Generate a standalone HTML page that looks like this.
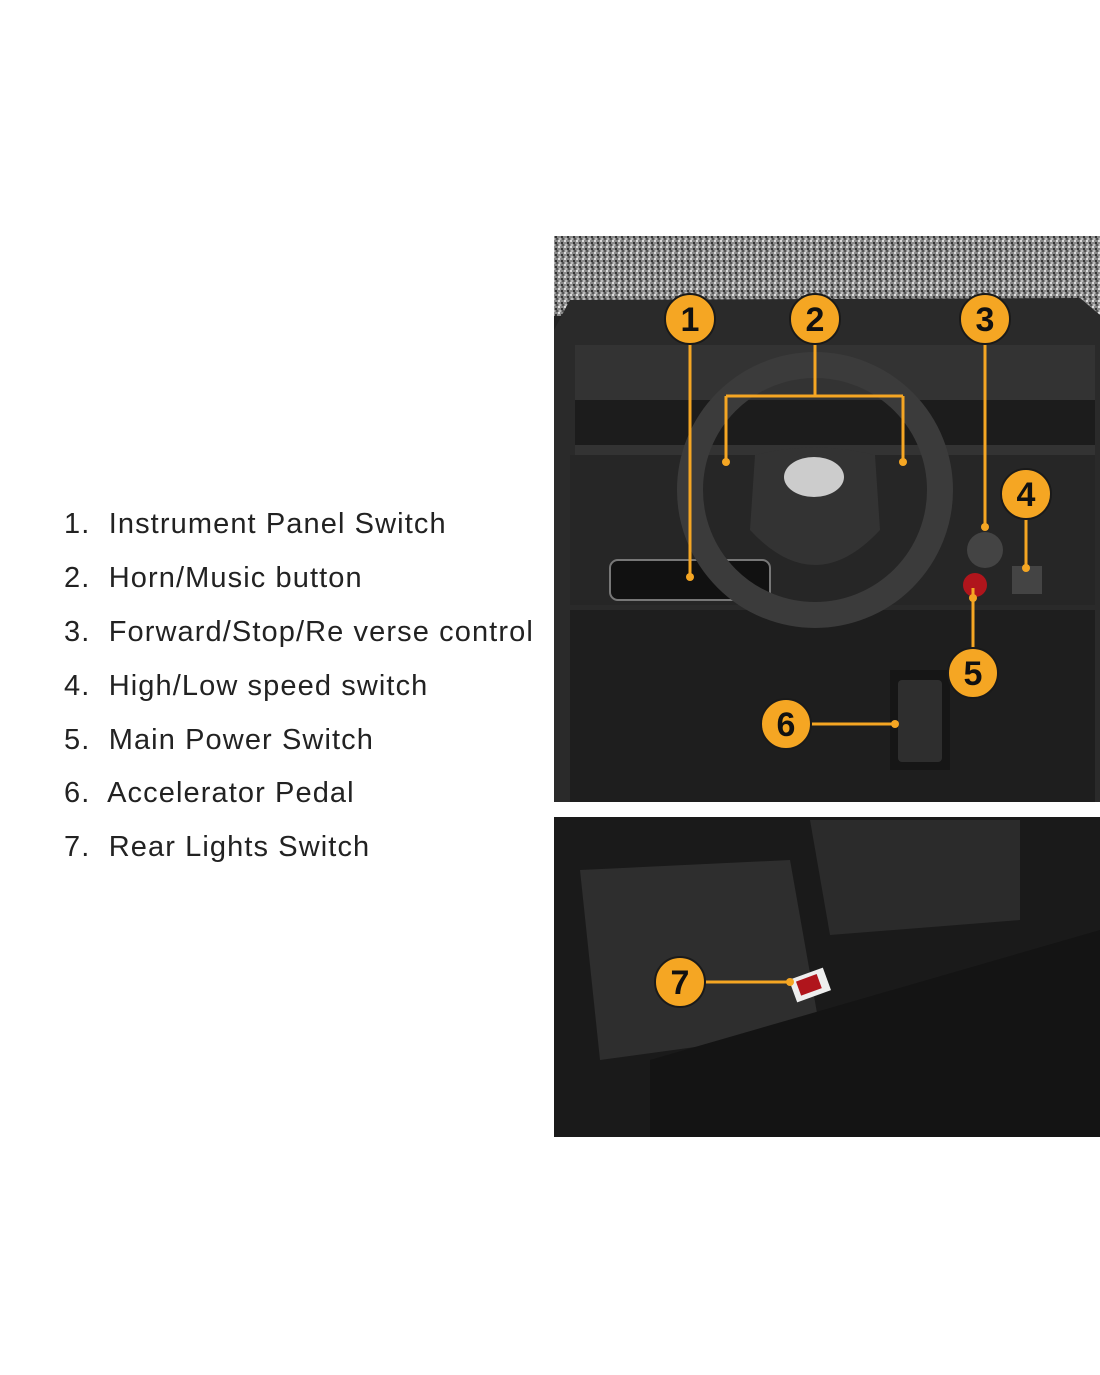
<!DOCTYPE html>
<html><head><style>
html,body{margin:0;padding:0;background:#fff;width:1100px;height:1375px;overflow:hidden}
.t{position:absolute;left:64px;font-family:"Liberation Sans",sans-serif;font-size:29px;color:#222;letter-spacing:1.1px;white-space:nowrap}
</style></head><body>
<div class="t" style="top:508px">1.&nbsp; Instrument Panel Switch</div>
<div class="t" style="top:562px">2.&nbsp; Horn/Music button</div>
<div class="t" style="top:616px">3.&nbsp; Forward/Stop/Re verse control</div>
<div class="t" style="top:670px">4.&nbsp; High/Low speed switch</div>
<div class="t" style="top:724px">5.&nbsp; Main Power Switch</div>
<div class="t" style="top:777px">6.&nbsp; Accelerator Pedal</div>
<div class="t" style="top:831px">7.&nbsp; Rear Lights Switch</div>
<svg style="position:absolute;left:0;top:0" width="1100" height="1375">
<defs>
<pattern id="n" width="6" height="6" patternUnits="userSpaceOnUse">
<rect width="6" height="6" fill="#8a8a8a"/><rect x="0" y="0" width="2" height="2" fill="#ddd"/><rect x="3" y="2" width="2" height="2" fill="#333"/><rect x="1" y="4" width="2" height="2" fill="#bbb"/><rect x="4" y="4" width="2" height="2" fill="#555"/></pattern>
</defs>
<rect x="554" y="236" width="546" height="566" fill="#222"/>
<rect x="554" y="236" width="546" height="80" fill="url(#n)"/>
<path d="M554 330 L570 300 L1080 298 L1100 315 L1100 802 L554 802Z" fill="#2a2a2a"/>
<rect x="575" y="345" width="520" height="110" fill="#333"/>
<rect x="575" y="400" width="520" height="45" fill="#1c1c1c"/>
<rect x="570" y="455" width="525" height="150" fill="#262626"/>
<rect x="610" y="560" width="160" height="40" rx="8" fill="#111" stroke="#777" stroke-width="2"/>
<rect x="570" y="610" width="525" height="192" fill="#1e1e1e"/>
<rect x="890" y="670" width="60" height="100" fill="#161616"/>
<rect x="898" y="680" width="44" height="82" rx="4" fill="#2e2e2e"/>
<circle cx="815" cy="490" r="125" fill="none" stroke="#3b3b3b" stroke-width="26"/>
<path d="M755 455 Q815 440 875 455 L880 530 Q815 600 750 530Z" fill="#333"/>
<ellipse cx="814" cy="477" rx="30" ry="20" fill="#ccc"/>
<circle cx="985" cy="550" r="18" fill="#444"/>
<circle cx="975" cy="585" r="12" fill="#b0151c"/>
<rect x="1012" y="566" width="30" height="28" fill="#444"/>
<rect x="554" y="817" width="546" height="320" fill="#1a1a1a"/>
<path d="M580 870 L790 860 L820 1030 L600 1060Z" fill="#2e2e2e"/>
<path d="M810 820 L1020 820 L1020 920 L830 935Z" fill="#2b2b2b"/>
<path d="M650 1060 L1100 930 L1100 1137 L650 1137Z" fill="#141414"/>
<rect x="792" y="973" width="36" height="24" fill="#eee" transform="rotate(-20 810 985)"/>
<rect x="798" y="977" width="22" height="15" fill="#b0151c" transform="rotate(-20 810 985)"/>
<g stroke="#f5a623" stroke-width="3" fill="none">
<path d="M690 319 V577"/>
<path d="M815 319 V396 M726 396 H903 M726 396 V462 M903 396 V462"/>
<path d="M985 319 V527"/>
<path d="M1026 494 V568"/>
<path d="M973 673 V588"/>
<path d="M786 724 H895"/>
<path d="M680 982 H790"/>
</g>
<g fill="#f5a623">
<circle cx="690" cy="577" r="4"/><circle cx="726" cy="462" r="4"/><circle cx="903" cy="462" r="4"/>
<circle cx="985" cy="527" r="4"/><circle cx="1026" cy="568" r="4"/><circle cx="973" cy="598" r="4"/>
<circle cx="895" cy="724" r="4"/><circle cx="790" cy="982" r="4"/>
</g>
<g fill="#f5a623" stroke="#1a1a1a" stroke-width="2">
<circle cx="690" cy="319" r="25"/><circle cx="815" cy="319" r="25"/><circle cx="985" cy="319" r="25"/>
<circle cx="1026" cy="494" r="25"/><circle cx="973" cy="673" r="25"/><circle cx="786" cy="724" r="25"/><circle cx="680" cy="982" r="25"/>
</g>
<g font-family="Liberation Sans,sans-serif" font-weight="bold" font-size="34" fill="#111" text-anchor="middle">
<text x="690" y="331">1</text><text x="815" y="331">2</text><text x="985" y="331">3</text>
<text x="1026" y="506">4</text><text x="973" y="685">5</text><text x="786" y="736">6</text><text x="680" y="994">7</text>
</g>
</svg>
</body></html>
